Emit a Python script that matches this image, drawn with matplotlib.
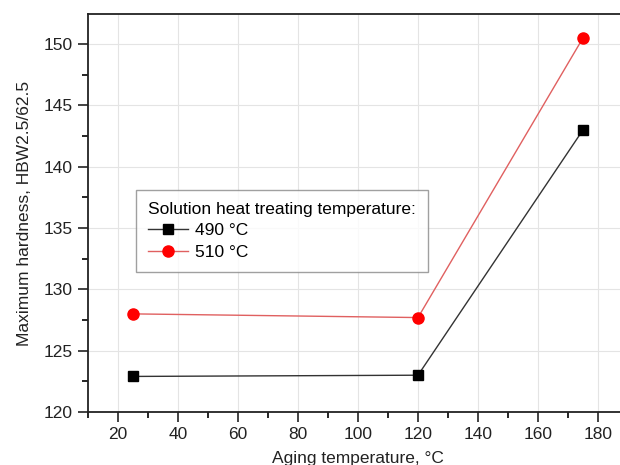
import matplotlib.pyplot as plt
from matplotlib.ticker import MultipleLocator

plt.rcParams['font.family'] = ['Liberation Sans', 'DejaVu Sans']

# data
aging_temp = [25, 120, 175]
hb_490 = [122.9, 123.0, 143.0]
hb_510 = [128.0, 127.7, 150.5]
labels = ['490 °C', '510 °C']

fig = plt.figure(figsize=(6.2, 4.65), dpi=100)
ax = fig.add_axes([88 / 620, 1 - 412 / 465, 540 / 620, 398 / 465])

ax.plot(aging_temp, hb_490, color='#333333', lw=1.0, marker='s', ms=7,
        mfc='black', mec='black', label=labels[0], zorder=3)
ax.plot(aging_temp, hb_510, color='#e06060', lw=1.0, marker='o', ms=8,
        mfc='red', mec='red', label=labels[1], zorder=3)

ax.set_xlim(10, 190)
ax.set_ylim(120, 152.45)
ax.xaxis.set_major_locator(MultipleLocator(20))
ax.xaxis.set_minor_locator(MultipleLocator(10))
ax.yaxis.set_major_locator(MultipleLocator(5))
ax.yaxis.set_minor_locator(MultipleLocator(2.5))
ax.tick_params(which='major', direction='out', length=7, width=1.2,
               labelsize=12.5, colors='#222222', pad=4)
ax.tick_params(which='minor', direction='out', length=4, width=1.2)
ax.tick_params(top=False, right=False, which='both')
ax.grid(True, which='major', color='#e4e4e4', lw=0.8)
ax.set_axisbelow(True)
for s in ax.spines.values():
    s.set_linewidth(1.3)
    s.set_color('#222222')

ax.set_xlabel('Aging temperature, °C', fontsize=12.5, color='#222222', labelpad=6)
ax.set_ylabel('Maximum hardness, HBW2.5/62.5', fontsize=12.5, color='#222222', labelpad=8)

leg = ax.legend(title='Solution heat treating temperature:', loc='upper left',
                bbox_to_anchor=((136 - 88) / 540, (412 - 190) / 398),
                borderaxespad=0, fontsize=12.5, title_fontsize=12.5, frameon=True,
                fancybox=False, edgecolor='#888888', handlelength=2.3,
                borderpad=0.7, labelspacing=0.35, handletextpad=0.4)
leg._legend_box.align = 'left'
leg.get_frame().set_linewidth(1.0)

fig.savefig('out.png', dpi=100)
